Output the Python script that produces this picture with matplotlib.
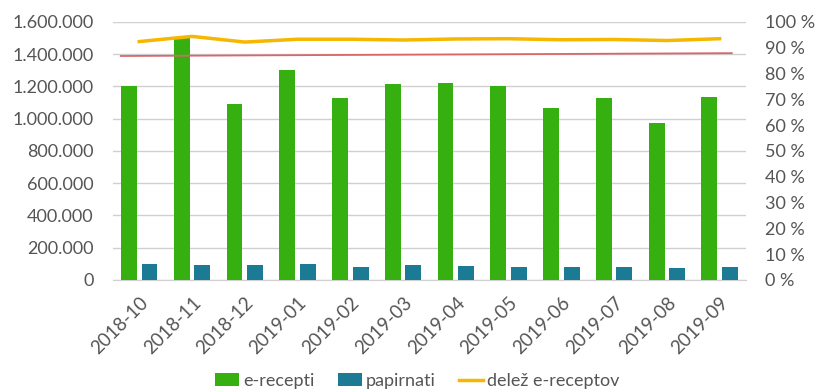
import matplotlib
matplotlib.use("Agg")
import matplotlib.pyplot as plt
import numpy as np
from matplotlib.ticker import FuncFormatter

plt.rcParams['font.family'] = ['Lato', 'DejaVu Sans']

months = ["2018-10", "2018-11", "2018-12", "2019-01", "2019-02", "2019-03",
          "2019-04", "2019-05", "2019-06", "2019-07", "2019-08", "2019-09"]
e_recepti = [1205000, 1500000, 1091000, 1302000, 1128000, 1215000,
             1222000, 1203000, 1067000, 1128000, 974000, 1135000]
papirnati = [100000, 92000, 92000, 96000, 83000, 92000,
             87000, 83000, 79000, 83000, 75000, 79000]
delez = [92.4, 94.4, 92.2, 93.3, 93.3, 93.0, 93.4, 93.5, 93.1, 93.2, 92.8, 93.5]
# red reference / trend line (right axis, %)
trend_x = [-0.35, 11.23]
trend_y = [86.8, 87.9]

green = "#35b010"
teal = "#1c7b94"
yellow = "#f5b700"
red = "#d9676a"
txt = "#555555"

fig = plt.figure(figsize=(8.18, 3.92), dpi=100)
ax = fig.add_axes([0.138, 0.286, 0.774, 0.658])
ax2 = ax.twinx()

x = np.arange(len(months))
w = 0.30
ax.bar(x - 0.195, e_recepti, width=w, color=green, label="e-recepti", zorder=3)
ax.bar(x + 0.195, papirnati, width=w, color=teal, label="papirnati", zorder=3)

ax2.plot(trend_x, trend_y, color=red, lw=1.3, zorder=3)
ax2.plot(x, delez, color=yellow, lw=2.5, label="delež e-receptov", zorder=4)

ax.set_xlim(-0.5, len(months) - 0.5)
ax.set_ylim(0, 1600000)
ax.set_yticks(np.arange(0, 1600001, 200000))
ax.yaxis.set_major_formatter(FuncFormatter(lambda v, p: f"{int(v):,}".replace(",", ".")))
ax2.set_ylim(0, 100)
ax2.set_yticks(np.arange(0, 101, 10))
ax2.yaxis.set_major_formatter(FuncFormatter(lambda v, p: f"{int(v)} %"))

ax.grid(axis='y', color="#d0d0d0", lw=1.0, zorder=0)
ax.set_axisbelow(True)
for a in (ax, ax2):
    for s in a.spines.values():
        s.set_visible(False)
    a.tick_params(length=0, labelsize=13, colors=txt)
ax.spines['bottom'].set_visible(True)
ax.spines['bottom'].set_color("#d0d0d0")

ax.set_xticks(x)
ax.set_xticklabels(months, rotation=45, ha='right', rotation_mode='anchor')
ax.tick_params(axis='x', pad=10, labelsize=13.5)
ax.tick_params(axis='y', pad=14)
ax2.tick_params(axis='y', pad=14)

h1, l1 = ax.get_legend_handles_labels()
h2, l2 = ax2.get_legend_handles_labels()
leg = fig.legend(h1 + h2, l1 + l2, loc='center', bbox_to_anchor=(0.51, 0.028),
                 ncol=3, frameon=False, fontsize=13, handlelength=1.35,
                 handletextpad=0.2, columnspacing=1.3)
for t in leg.get_texts():
    t.set_color(txt)

fig.savefig("out.png", dpi=100)
